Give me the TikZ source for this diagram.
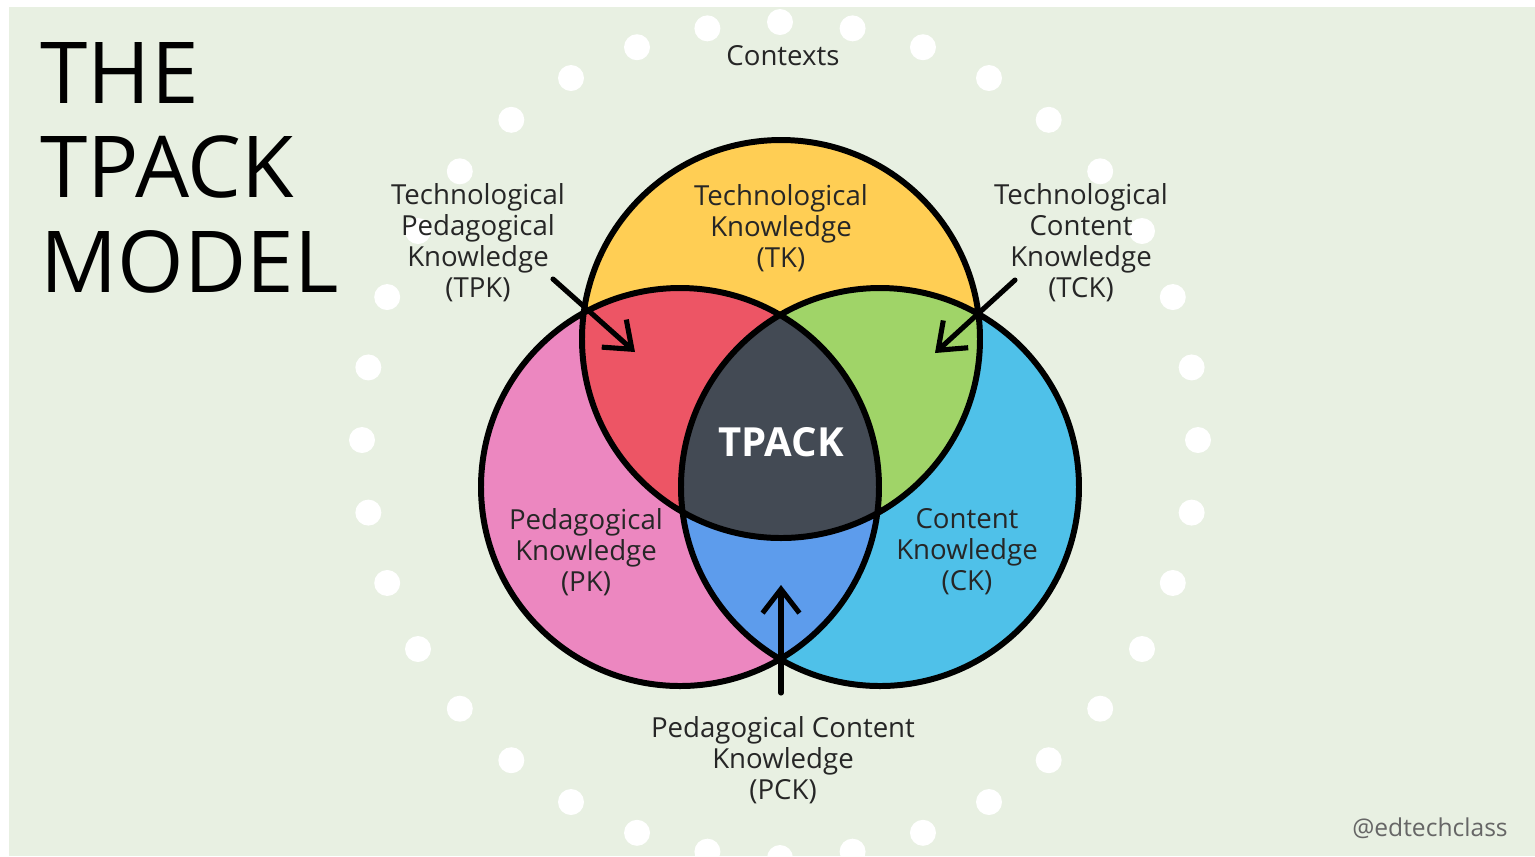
\documentclass[tikz,border=0pt]{standalone}
\usepackage{fontspec}
\setmainfont{Open Sans}
\usepackage{tikz}
\usetikzlibrary{arrows.meta}
\definecolor{bggreen}{HTML}{E8F0E2}
\definecolor{tkyellow}{HTML}{FFCE54}
\definecolor{tpkred}{HTML}{ED5565}
\definecolor{tckgreen}{HTML}{A0D468}
\definecolor{pkpink}{HTML}{EC87C0}
\definecolor{ckblue}{HTML}{4FC1E9}
\definecolor{pckblue}{HTML}{5D9CEC}
\definecolor{tpackgray}{HTML}{434A54}
\tikzset{
	lbl/.style={align=center, text=black!85, inner sep=0pt, font=\fontsize{7.85}{8.8}\selectfont},
	titleline/.style={anchor=base west, inner sep=0pt, font=\fontsize{24.3}{26}\selectfont},
	ring/.style={line width=1.7pt},
	pointer/.style={line width=1.45pt, line cap=round, -{Straight Barb[length=6.8pt,width=10.5pt]}}
}

\begin{document}
\begin{tikzpicture}[x=0.01cm,y=-0.01cm]
	\useasboundingbox (0,0) rectangle (1535,856);
	\fill[white] (0,0) rectangle (1535,856);
	\fill[bggreen] (9,7) rectangle (1535,856);
	\foreach \a in {0,10,...,350}
		\fill[white] (780,440) ++(\a:418) circle (13);
	\coordinate (tkc) at (781,339);
	\coordinate (pkc) at (680,487);
	\coordinate (ckc) at (880,487);
	\fill[tkyellow] (tkc) circle (199);
	\fill[pkpink] (pkc) circle (199);
	\fill[ckblue] (ckc) circle (199);
	\begin{scope}
		\clip (tkc) circle (199);
		\fill[tpkred] (pkc) circle (199);
		\fill[tckgreen] (ckc) circle (199);
	\end{scope}
	\begin{scope}
		\clip (pkc) circle (199);
		\fill[pckblue] (ckc) circle (199);
		\clip (ckc) circle (199);
		\fill[tpackgray] (tkc) circle (199);
	\end{scope}
	\draw[ring] (tkc) circle (199) (pkc) circle (199) (ckc) circle (199);
	\node[titleline] (the) at (40,103) {THE};
	\node[titleline] (tpackword) at (40,197) {TPACK};
	\node[titleline] (model) at (40,292) {MODEL};
	\node[lbl] (ctx) at (783,56) {Contexts};
	\node[lbl] (tpk) at (478,243) {Technological\\Pedagogical\\Knowledge\\(TPK)};
	\node[lbl] (tk) at (781,228) {Technological\\Knowledge\\(TK)};
	\node[lbl] (tck) at (1081,243) {Technological\\Content\\Knowledge\\(TCK)};
	\node[lbl] (pk) at (586,552) {Pedagogical\\Knowledge\\(PK)};
	\node[lbl] (ck) at (967,552) {Content\\Knowledge\\(CK)};
	\node[lbl] (pck) at (783,760) {Pedagogical Content\\Knowledge\\(PCK)};
	\node[text=white, inner sep=0pt, font=\bfseries\fontsize{11.4}{13}\selectfont] (tpack) at (781,442) {TPACK};
	\node[text=black!60, inner sep=0pt, font=\fontsize{7}{8}\selectfont] (tag) at (1430,828) {@edtechclass};
	\coordinate (tpk-from) at (553,279);
	\coordinate (tpk-to) at (635,352);
	\coordinate (tck-from) at (1015,280);
	\coordinate (tck-to) at (935,353);
	\coordinate (pck-from) at (781,693);
	\coordinate (pck-to) at (781,585);
	\draw[pointer] (tpk-from) -- (tpk-to);
	\draw[pointer] (tck-from) -- (tck-to);
	\draw[pointer] (pck-from) -- (pck-to);
\end{tikzpicture}
\end{document}
